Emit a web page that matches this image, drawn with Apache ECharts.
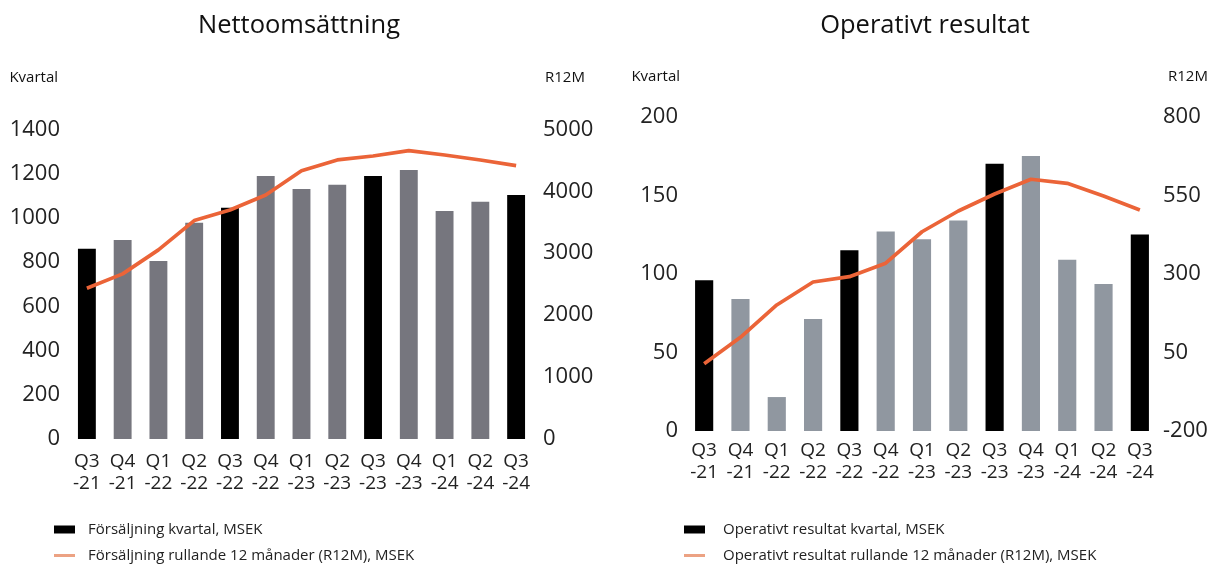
<!DOCTYPE html>
<html>
<head>
<meta charset="utf-8">
<script src="https://cdn.jsdelivr.net/npm/echarts@6/dist/echarts.min.js"></script>
<style>
html,body{margin:0;padding:0;background:#fff;}
#c{width:1212px;height:565px;}
</style>
</head>
<body>
<div id="c"></div>
<script>
const categories = ['Q3\n-21','Q4\n-21','Q1\n-22','Q2\n-22','Q3\n-22','Q4\n-22','Q1\n-23','Q2\n-23','Q3\n-23','Q4\n-23','Q1\n-24','Q2\n-24','Q3\n-24'];
const salesQuarter = [860, 900, 805, 977, 1045, 1189, 1130, 1149, 1189, 1216, 1031, 1072, 1103];
const salesR12M = [2435, 2666, 3053, 3526, 3698, 3940, 4332, 4505, 4569, 4655, 4585, 4505, 4413];
const ebitQuarter = [96, 84, 21.6, 71.3, 115, 127, 122, 134, 170, 175, 109, 93.5, 125];
const ebitR12M = [14, 98, 201, 274, 291, 334, 434, 500, 554, 601, 588, 548, 503];
const salesLeftTicks = [0, 200, 400, 600, 800, 1000, 1200, 1400];
const salesRightTicks = [0, 1000, 2000, 3000, 4000, 5000];
const ebitLeftTicks = [0, 50, 100, 150, 200];
const ebitRightTicks = [-200, 50, 300, 550, 800];

const BLACK = '#000000';
const GRAY_L = '#76767e';
const GRAY_R = '#9097a0';
const ORANGE = '#eb6438';
const LEGEND_ORANGE = '#eca283';
const FONT = '"Open Sans", "Noto Sans", sans-serif';

function barData(vals, gray) {
  return vals.map((v, i) => ({
    value: v,
    itemStyle: { color: categories[i].startsWith('Q3') ? BLACK : gray }
  }));
}
function yAx(gridIndex, pos, ticks, name, nameAlign, namePad, nameGap, margin) {
  return {
    type: 'value', gridIndex, position: pos,
    min: ticks[0], max: ticks[ticks.length - 1],
    name, nameLocation: 'end', nameGap,
    nameTextStyle: { fontFamily: FONT, fontSize: 15, color: '#111', align: nameAlign, padding: namePad },
    axisLine: { show: false }, axisTick: { show: false }, splitLine: { show: false },
    axisLabel: { customValues: ticks, formatter: v => String(v), fontFamily: FONT, fontSize: 22, color: '#222', margin }
  };
}
function xAx(gridIndex, margin) {
  return {
    type: 'category', gridIndex, data: categories,
    axisLine: { show: false }, axisTick: { show: false },
    axisLabel: { fontFamily: FONT, fontSize: 19, lineHeight: 22, color: '#222', margin, interval: 0 }
  };
}
function legend(name, x, y, h, color, pad) {
  return {
    left: x, top: y, data: [{ name, icon: 'rect', itemStyle: { color } }],
    itemWidth: 21, itemHeight: h, selectedMode: false,
    textStyle: { fontFamily: FONT, fontSize: 15, color: '#222', padding: [0, 0, 0, pad] }
  };
}

const option = {
  animation: false,
  title: [
    { text: 'Nettoomsättning', left: 294, top: 8, textAlign: 'center',
      textStyle: { fontFamily: FONT, fontSize: 25.5, fontWeight: 'normal', color: '#111' } },
    { text: 'Operativt resultat', left: 920, top: 8, textAlign: 'center',
      textStyle: { fontFamily: FONT, fontSize: 25.5, fontWeight: 'normal', color: '#111' } }
  ],
  legend: [
    legend('Försäljning kvartal, MSEK', 49, 517, 8, BLACK, 8),
    legend('Försäljning rullande 12 månader (R12M), MSEK', 49, 543, 3, LEGEND_ORANGE, 8),
    legend('Operativt resultat kvartal, MSEK', 679, 517, 8, BLACK, 13),
    legend('Operativt resultat rullande 12 månader (R12M), MSEK', 679, 543, 3, LEGEND_ORANGE, 13)
  ],
  grid: [
    { left: 69, top: 129.3, width: 465, height: 309.7 },
    { left: 686, top: 116.7, width: 472, height: 314.3 }
  ],
  xAxis: [xAx(0, 12), xAx(1, 9)],
  yAxis: [
    yAx(0, 'left', salesLeftTicks, 'Kvartal', 'right', [0, 11, 0, 0], 44, 9),
    yAx(0, 'right', salesRightTicks, 'R12M', 'left', [0, 0, 0, 11], 44, 9),
    yAx(1, 'left', ebitLeftTicks, 'Kvartal', 'right', [0, 6, 0, 0], 32, 8),
    yAx(1, 'right', ebitRightTicks, 'R12M', 'left', [0, 0, 0, 10], 32, 5)
  ],
  series: [
    { name: 'Försäljning kvartal, MSEK', type: 'bar', xAxisIndex: 0, yAxisIndex: 0,
      barWidth: '50%', itemStyle: { color: BLACK }, data: barData(salesQuarter, GRAY_L) },
    { name: 'Försäljning rullande 12 månader (R12M), MSEK', type: 'line', xAxisIndex: 0, yAxisIndex: 1,
      symbol: 'none', lineStyle: { color: ORANGE, width: 3.7 }, itemStyle: { color: ORANGE }, data: salesR12M },
    { name: 'Operativt resultat kvartal, MSEK', type: 'bar', xAxisIndex: 1, yAxisIndex: 2,
      barWidth: '50%', itemStyle: { color: BLACK }, data: barData(ebitQuarter, GRAY_R) },
    { name: 'Operativt resultat rullande 12 månader (R12M), MSEK', type: 'line', xAxisIndex: 1, yAxisIndex: 3,
      symbol: 'none', lineStyle: { color: ORANGE, width: 3.7 }, itemStyle: { color: ORANGE }, data: ebitR12M }
  ]
};
const chart = echarts.init(document.getElementById('c'), null, { renderer: 'canvas' });
chart.setOption(option);
</script>
</body>
</html>
